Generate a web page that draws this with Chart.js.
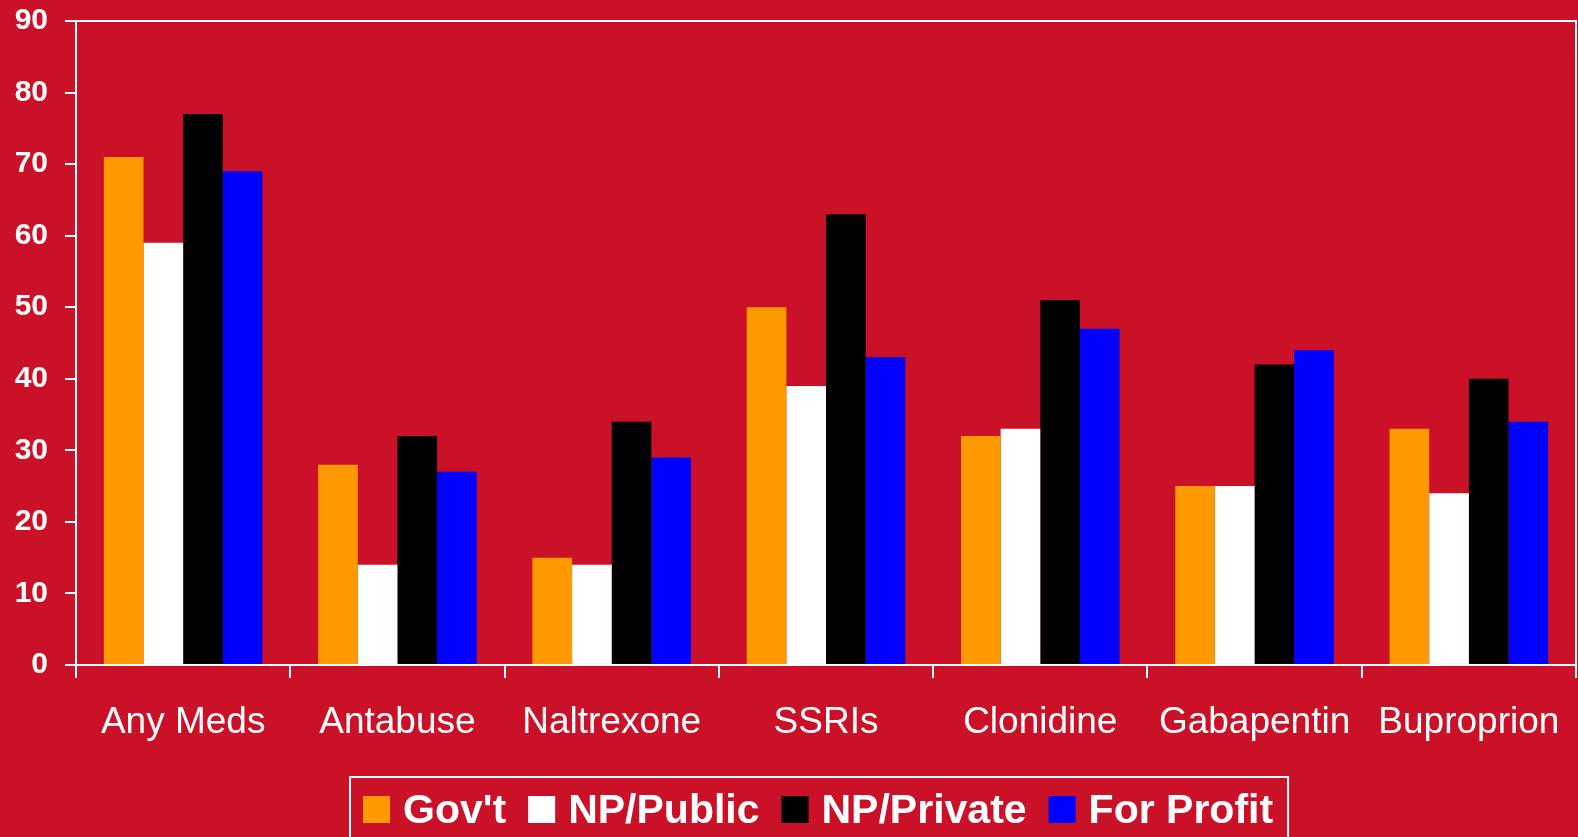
<!DOCTYPE html>
<html>
<head>
<meta charset="utf-8">
<title>Medication use by ownership type</title>
<script src="https://cdn.jsdelivr.net/npm/chart.js@4/dist/chart.umd.min.js"></script>
<style>
  html, body { margin: 0; padding: 0; background: #CB1127; }
  #wrap { width: 1578px; height: 837px; position: relative; }
  canvas { display: block; }
</style>
</head>
<body>
<div id="wrap"><canvas id="chart" width="1578" height="837"></canvas></div>
<script>
// Categories and series values (percent of programs)
const categories = ['Any Meds', 'Antabuse', 'Naltrexone', 'SSRIs', 'Clonidine', 'Gabapentin', 'Buproprion'];
const seriesNames = ["Gov't", 'NP/Public', 'NP/Private', 'For Profit'];
const govt      = [71, 28, 15, 50, 32, 25, 33];
const npPublic  = [59, 14, 14, 39, 33, 25, 24];
const npPrivate = [77, 32, 34, 63, 51, 42, 40];
const forProfit = [69, 27, 29, 43, 47, 44, 34];
const yTicks    = [0, 10, 20, 30, 40, 50, 60, 70, 80, 90];

const BG = '#CB1127';
const FONT = "'Liberation Sans', Arial, Helvetica, sans-serif";
const colors = ['#FF9900', '#FFFFFF', '#000000', '#0000FF'];
const values = [govt, npPublic, npPrivate, forProfit];

const datasets = seriesNames.map((name, i) => ({
  label: name,
  data: values[i],
  backgroundColor: colors[i],
  borderWidth: 0,
  barPercentage: 1.0,
  categoryPercentage: 0.74
}));

// Page background, frame on the top and right of the plot area, and the boxed legend
const framePlugin = {
  id: 'frameAndLegend',
  beforeDraw(chart) {
    const ctx = chart.ctx;
    ctx.save();
    ctx.fillStyle = BG;
    ctx.fillRect(0, 0, chart.width, chart.height);
    ctx.restore();
  },
  afterDraw(chart) {
    const ctx = chart.ctx;
    const a = chart.chartArea;
    ctx.save();
    ctx.strokeStyle = '#FFFFFF';
    ctx.lineWidth = 2;
    ctx.beginPath();
    ctx.moveTo(a.left, a.top);
    ctx.lineTo(a.right, a.top);
    ctx.lineTo(a.right, a.bottom);
    ctx.stroke();

    // legend
    const boxSize = 27, textGap = 13, itemGap = 22, padL = 13, padR = 15;
    const left = 350, top = 777, baseline = 823;
    ctx.font = 'bold 41px ' + FONT;
    let x = left + padL;
    chart.data.datasets.forEach((ds, i) => {
      ctx.fillStyle = ds.backgroundColor;
      ctx.fillRect(x, baseline - boxSize, boxSize, boxSize);
      x += boxSize + textGap;
      ctx.fillStyle = '#FFFFFF';
      ctx.textBaseline = 'alphabetic';
      ctx.textAlign = 'left';
      ctx.fillText(ds.label, x, baseline);
      x += ctx.measureText(ds.label).width;
      if (i < chart.data.datasets.length - 1) x += itemGap;
    });
    const right = x + padR;
    ctx.strokeStyle = '#FFFFFF';
    ctx.lineWidth = 2;
    ctx.strokeRect(left, top, right - left, 80);
    ctx.restore();
  }
};

new Chart(document.getElementById('chart'), {
  type: 'bar',
  data: { labels: categories, datasets },
  plugins: [framePlugin],
  options: {
    responsive: false,
    animation: false,
    layout: { padding: { top: 21, right: 2, bottom: 72, left: 0 } },
    plugins: {
      legend: { display: false },
      tooltip: { enabled: false }
    },
    scales: {
      x: {
        grid: {
          offset: true,
          drawOnChartArea: false,
          drawTicks: true,
          tickLength: 13,
          color: '#FFFFFF',
          lineWidth: 2
        },
        border: { display: true, color: '#FFFFFF', width: 2 },
        ticks: {
          color: '#FFFFFF',
          font: { family: FONT, size: 37, weight: 'normal' },
          padding: 23,
          maxRotation: 0,
          autoSkip: false
        },
        afterFit(scale) {
          scale.height = 100;
          scale.paddingLeft = 0;
          scale.paddingRight = 0;
        }
      },
      y: {
        min: 0,
        max: 90,
        afterBuildTicks(scale) { scale.ticks = yTicks.map(v => ({ value: v })); },
        grid: {
          drawOnChartArea: false,
          drawTicks: true,
          tickLength: 11,
          color: '#FFFFFF',
          lineWidth: 2
        },
        border: { display: true, color: '#FFFFFF', width: 2 },
        ticks: {
          color: '#FFFFFF',
          font: { family: FONT, size: 30, weight: 'bold' },
          padding: 17
        },
        afterFit(scale) {
          scale.width = 76;
          scale.paddingTop = 0;
          scale.paddingBottom = 0;
        }
      }
    }
  }
});
</script>
</body>
</html>
